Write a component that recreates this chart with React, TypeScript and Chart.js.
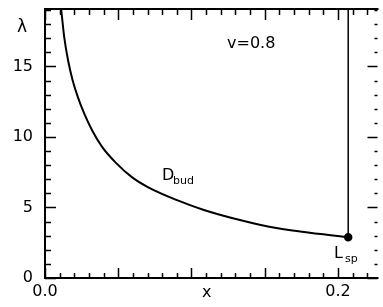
import React, { useEffect, useRef } from "react";
import { Chart, registerables } from "chart.js";

Chart.register(...registerables);

// D_bud curve (x, lambda)
const budX = [0.0111, 0.0131, 0.0158, 0.0188, 0.0225, 0.0268, 0.0324, 0.0391, 0.0481, 0.0593, 0.0705, 0.0906, 0.1085, 0.131, 0.153, 0.1756, 0.207];
const budY = [19.0, 17.1, 15.4, 14.04, 12.8, 11.65, 10.42, 9.28, 8.2, 7.15, 6.43, 5.5, 4.82, 4.16, 3.64, 3.28, 2.89];
// vertical line from L_sp upward
const spX = [0.207, 0.207];
const spY = [2.89, 19.07];
const xLabels = [0, 0.2];
const yLabels = [0, 5, 10, 15];

const FONT = "'DejaVu Sans', sans-serif";

const framePlugin = {
  id: "frameTicks",
  afterDraw(chart: any) {
    const ctx = chart.ctx;
    const { left, right, top, bottom } = chart.chartArea;
    const xs = chart.scales.x;
    const ys = chart.scales.y;
    ctx.save();
    ctx.strokeStyle = "#000";
    ctx.lineWidth = 2;
    ctx.beginPath();
    ctx.moveTo(left, top);
    ctx.lineTo(right + 1, top);
    ctx.moveTo(left, top - 1);
    ctx.lineTo(left, bottom + 1);
    ctx.moveTo(left - 1, bottom);
    ctx.lineTo(right + 1, bottom);
    ctx.stroke();
    ctx.lineWidth = 1.5;
    ctx.beginPath();
    for (let i = 0; i <= 22; i++) {
      const v = i / 100;
      const px = Math.round(xs.getPixelForValue(v)) + 0.5;
      const major = i % 5 === 0;
      const lb = major ? 10 : 5;
      const lt = major ? 11 : 6;
      ctx.moveTo(px, bottom);
      ctx.lineTo(px, bottom - lb);
      ctx.moveTo(px, top);
      ctx.lineTo(px, top + lt);
    }
    for (let i = 0; i <= 19; i++) {
      const py = Math.round(ys.getPixelForValue(i)) + 0.5;
      const major = i % 5 === 0;
      const ll = major ? 11 : 6;
      const lr = major ? 10 : 3;
      ctx.moveTo(left, py);
      ctx.lineTo(left + ll, py);
      ctx.moveTo(right, py);
      ctx.lineTo(right - lr, py);
    }
    ctx.stroke();

    ctx.fillStyle = "#000";
    ctx.textBaseline = "alphabetic";
    ctx.textAlign = "left";
    ctx.font = `16px ${FONT}`;
    ctx.fillText("v=0.8", 227, 48);
    ctx.fillText("x", 202, 297);
    ctx.font = `17px ${FONT}`;
    ctx.fillText("λ", 17, 32);
    ctx.font = `16px ${FONT}`;
    ctx.fillText("D", 162, 180);
    ctx.fillText("L", 334, 258);
    ctx.font = `11px ${FONT}`;
    ctx.fillText("bud", 173, 184);
    ctx.fillText("sp", 345, 262);
    ctx.restore();
  },
};

export default function App() {
  const ref = useRef<HTMLCanvasElement | null>(null);
  useEffect(() => {
    document.body.style.margin = "0";
    const canvas = ref.current!;
    const chart = new Chart(canvas, {
      type: "scatter",
      data: {
        datasets: [
          {
            data: budX.map((x, i) => ({ x, y: budY[i] })),
            showLine: true,
            borderColor: "#000",
            borderWidth: 2,
            pointRadius: 0,
            cubicInterpolationMode: "monotone",
          } as any,
          {
            data: spX.map((x, i) => ({ x, y: spY[i] })),
            showLine: true,
            borderColor: "#000",
            borderWidth: 1.5,
            pointRadius: [3.5, 0],
            pointBackgroundColor: "#000",
            pointBorderColor: "#000",
          } as any,
        ],
      },
      options: {
        animation: false,
        responsive: false,
        events: [],
        layout: { padding: { top: 9, right: 0, left: 0, bottom: 0 } },
        plugins: { legend: { display: false }, tooltip: { enabled: false } },
        scales: {
          x: {
            type: "linear",
            min: 0,
            max: 0.227,
            grid: { display: false, drawTicks: false },
            border: { display: false },
            afterFit: (s: any) => {
              s.height = 29;
              s.paddingLeft = 0;
              s.paddingRight = 0;
            },
            ticks: {
              stepSize: 0.01,
              autoSkip: false,
              maxRotation: 0,
              padding: 4,
              color: "#000",
              font: { family: FONT, size: 16 },
              callback: (v: any) => {
                const n = Number(v);
                for (const l of xLabels) if (Math.abs(n - l) < 1e-6) return l.toFixed(1);
                return "";
              },
            },
          },
          y: {
            type: "linear",
            min: 0,
            max: 19.07,
            grid: { display: false, drawTicks: false },
            border: { display: false },
            afterFit: (s: any) => {
              s.width = 45;
              s.paddingTop = 0;
              s.paddingBottom = 0;
            },
            ticks: {
              stepSize: 1,
              autoSkip: false,
              padding: 12,
              color: "#000",
              font: { family: FONT, size: 16 },
              callback: (v: any) => {
                const n = Number(v);
                for (const l of yLabels) if (Math.abs(n - l) < 1e-6) return String(l);
                return "";
              },
            },
          },
        },
      },
      plugins: [framePlugin],
    });
    return () => chart.destroy();
  }, []);
  return (
    <div style={{ width: 383, height: 307, overflow: "hidden" }}>
      <canvas ref={ref} width={383} height={307} style={{ display: "block" }} />
    </div>
  );
}
